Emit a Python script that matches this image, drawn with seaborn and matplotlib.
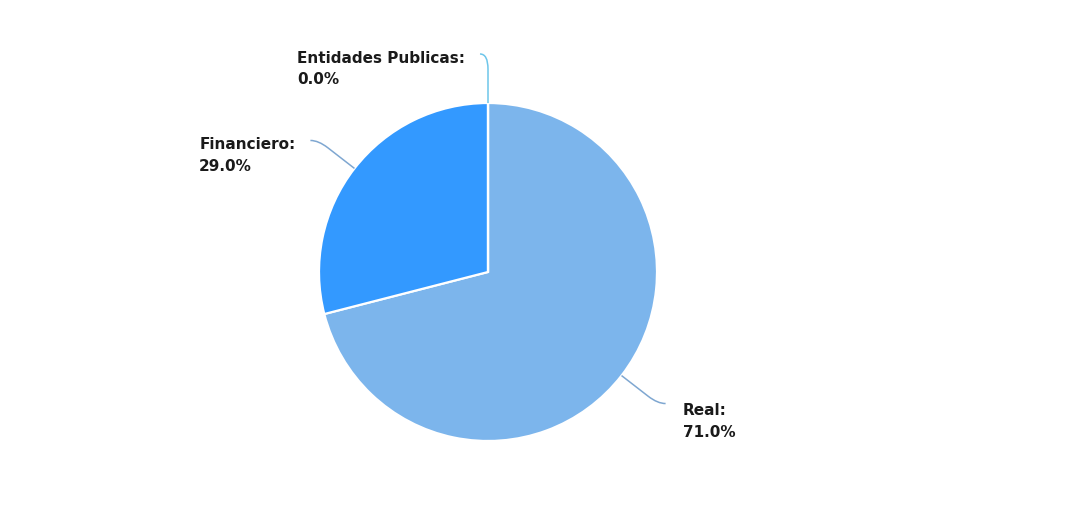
import numpy as np
import matplotlib
matplotlib.use("Agg")
import matplotlib.pyplot as plt
from matplotlib.path import Path
from matplotlib.patches import PathPatch
import seaborn as sns

# ---- data ----
categories = ["Real", "Financiero", "Entidades Publicas"]
values = [71.0, 29.0, 0.0]
colors = ["#7cb5ec", "#3399ff", "#90ed7d"]

sns.set_theme(style="white")
plt.rcParams["font.family"] = ["DejaVu Sans"]

W, H = 1089, 530
fig = plt.figure(figsize=(W / 100, H / 100), dpi=100)
ax = fig.add_axes([0, 0, 1, 1])
cx, cy, R = 488, 272, 169  # pie center / radius in pixels

wedges, _ = ax.pie(values, colors=colors, startangle=90, counterclock=False,
                   radius=1.0, center=(0, 0),
                   wedgeprops=dict(edgecolor="white", linewidth=1.6))
ax.set_aspect("auto")
ax.set_xlim(-cx / R, (W - cx) / R)
ax.set_ylim(-(H - cy) / R, cy / R)
ax.axis("off")

total = sum(values)
cum = 0.0
for name, v, col in zip(categories, values, colors):
    mid = cum + v / 2.0
    cum += v
    ang = np.deg2rad(90 - 360 * mid / total)
    d = np.array([np.cos(ang), np.sin(ang)])
    side = 1 if d[0] > 0.01 else -1
    p0 = d * 1.0
    if abs(d[0]) < 0.01:
        pa = d * 1.20
        pb = d * 1.29
        p2 = d * 1.29 + np.array([-8 / R, 0])
        lc = "#6ec6ea"
    else:
        pa = d * 1.20
        pb = d * 1.27
        p2 = pb + np.array([side * 8 / R, 0])
        lc = "#7fa7d1"
    path = Path([p0, pa, pb, p2],
                [Path.MOVETO, Path.LINETO, Path.CURVE3, Path.CURVE3])
    ax.add_patch(PathPatch(path, fill=False, edgecolor=lc, linewidth=1.1))
    label = f"{name}:\n{v:.1f}%"
    if side > 0:
        ax.annotate(label, xy=p2, xytext=(17, -18), textcoords="offset pixels",
                    ha="left", va="center", multialignment="left",
                    linespacing=1.55,
                    fontsize=11, fontweight="bold", color="#1a1a1a")
    else:
        ax.annotate(label, xy=p2, xytext=(-15, -15), textcoords="offset pixels",
                    ha="right", va="center", multialignment="left",
                    linespacing=1.55,
                    fontsize=11, fontweight="bold", color="#1a1a1a")

fig.savefig("out.png", dpi=100, facecolor="white")
